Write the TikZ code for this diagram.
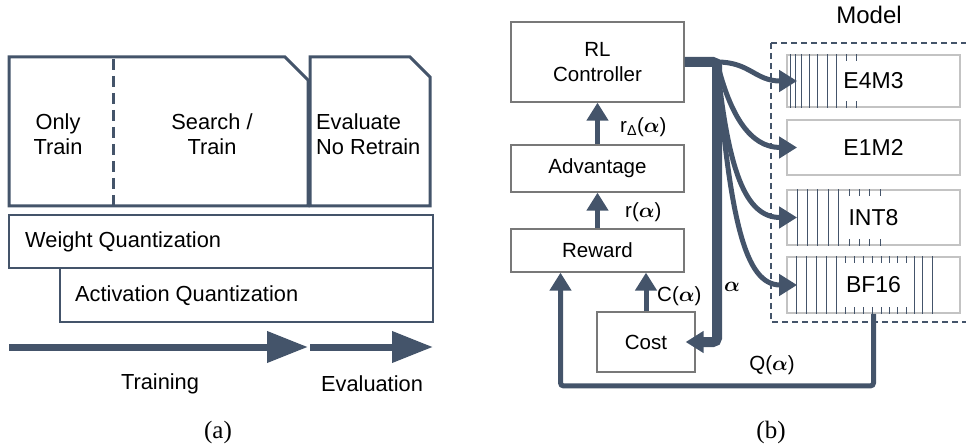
\documentclass[tikz,border=0pt]{standalone}
\usepackage{amsmath}
\usepackage{bm}
\usepackage{fontspec}
\setmainfont{Liberation Sans}
\newfontfamily\capfont{Liberation Serif}
\usepackage{tikz}
\usetikzlibrary{arrows.meta,calc,positioning}
\definecolor{slate}{RGB}{68,84,106}
\definecolor{boxgray}{RGB}{120,120,120}
\definecolor{fmtgray}{RGB}{195,195,195}

\begin{document}
\begin{tikzpicture}[x=1pt,y=-1pt,
  font=\fontsize{20.5}{24.6}\selectfont,
  bigtext/.style={font=\fontsize{21.8}{25}\selectfont},
  captext/.style={font=\capfont\fontsize{25}{28}\selectfont},
  phase/.style={draw=slate,line width=3pt,line join=miter},
  quant/.style={draw=slate,line width=1.3pt},
  bigarrow/.style={draw=slate,line width=7pt,-{Triangle[length=41pt,width=30pt]}},
  block/.style={draw=boxgray,line width=1.3pt,rectangle,inner sep=0pt,align=center,minimum width=173pt},
  fmt/.style={draw=fmtgray,line width=1.8pt,rectangle,inner sep=0pt,minimum width=173pt,
    font=\fontsize{23}{27}\selectfont},
  flow/.style={draw=slate,line width=5pt,-{Triangle[length=18pt,width=21pt]}},
  bits/.style={draw=slate,line width=1.1pt}]
  \useasboundingbox (0,0) rectangle (966,446);
  % Panel (a): phases
  \draw[phase] (9,57) -- (285,57) -- (308,80) -- (308,206) -- (9,206) -- cycle;
  \draw[phase] (310,57) -- (410,57) -- (430,77) -- (430,206) -- (310,206) -- cycle;
  \draw[slate,line width=3pt,dash pattern=on 11pt off 6pt] (113,59) -- (113,206);
  \node[bigtext,align=center,inner sep=0pt] (only) at (58,134.5) {Only\\Train};
  \node[bigtext,align=center,inner sep=0pt] (search) at (212,134.5) {Search /\\Train};
  \node[bigtext,align=left,inner sep=0pt,anchor=west] (evalnr) at (316,134.5) {Evaluate\\No Retrain};
  % Quantization bars
  \draw[quant] (9,215) rectangle (433,268);
  \draw[quant] (60,268) rectangle (433,322);
  \node[bigtext,anchor=west,inner sep=0pt] (wq) at (25,242) {Weight Quantization};
  \node[bigtext,anchor=west,inner sep=0pt] (aq) at (75,296) {Activation Quantization};
  % Timeline
  \coordinate (t0) at (9,347);
  \coordinate (t1) at (308,347);
  \coordinate (e0) at (310,347);
  \coordinate (e1) at (433,347);
  \draw[bigarrow] (t0) -- (t1);
  \draw[bigarrow] (e0) -- (e1);
  \node[bigtext] (train) at (160,384) {Training};
  \node[bigtext] (evaluation) at (372,384) {Evaluation};
  \node[captext] (capa) at (218,432) {(a)};

  % Panel (b): control loop
  \node[block,minimum height=80pt] (rl) at (597.5,62) {RL\\Controller};
  \node[block,minimum height=47pt] (adv) at (597.5,168.5) {Advantage};
  \node[block,minimum height=43pt] (reward) at (597.5,250.5) {Reward};
  \node[block,minimum width=98pt,minimum height=60pt] (cost) at (646,342) {Cost};
  \draw[flow] (adv.north) -- (rl.south);
  \draw[flow] (reward.north) -- (adv.south);
  \draw[flow] (cost.north) -- (cost.north |- reward.south);
  \node[anchor=west,inner sep=0pt] (rdlab) at (620,127) {r\textsubscript{Δ}($\bm{\alpha}$)};
  \node[anchor=west,inner sep=0pt] (rlab) at (625,212) {r($\bm{\alpha}$)};
  \node[anchor=west,inner sep=0pt] (clab) at (657,296) {C($\bm{\alpha}$)};
  % Model
  \draw[slate,line width=1.2pt,dash pattern=on 6pt off 4pt] (771,43) rectangle (985,322);
  \node[font=\fontsize{24}{28}\selectfont] (model) at (869,15) {Model};
  \node[fmt,minimum height=52pt] (e4m3) at (873.5,81) {E4M3};
  \node[fmt,minimum height=55pt] (e1m2) at (873.5,147.5) {E1M2};
  \node[fmt,minimum height=55pt] (int8) at (873.5,217.5) {INT8};
  \node[fmt,minimum height=56pt] (bf16) at (873.5,285) {BF16};
  % bit fields
  \foreach \x in {4,9,15,23,31,41,50}
    \draw[bits] ($(e4m3.north west)+(\x,0)$) -- ($(e4m3.south west)+(\x,0)$);
  \foreach \x in {60,70} {
    \draw[bits] ($(e4m3.north west)+(\x,0)$) -- ++(0,7);
    \draw[bits] ($(e4m3.south west)+(\x,0)$) -- ++(0,-7);
  }
  \foreach \x in {11,21,31,42,52}
    \draw[bits] ($(int8.north west)+(\x,0)$) -- ($(int8.south west)+(\x,0)$);
  \foreach \x in {63,73,83,94} {
    \draw[bits] ($(int8.north west)+(\x,0)$) -- ++(0,7);
    \draw[bits] ($(int8.south west)+(\x,0)$) -- ++(0,-7);
  }
  \foreach \x in {10,20,30,40,50,128,136,146}
    \draw[bits] ($(bf16.north west)+(\x,0)$) -- ($(bf16.south west)+(\x,0)$);
  \foreach \x in {59,68,77,86,95,103,111,120} {
    \draw[bits] ($(bf16.north west)+(\x,0)$) -- ++(0,7);
    \draw[bits] ($(bf16.south west)+(\x,0)$) -- ++(0,-7);
  }
  % alpha trunk and branches
  \coordinate (split) at (717,62);
  \draw[slate,line width=10pt,rounded corners=4pt,-{Triangle[length=18pt,width=21pt]}]
    (rl.east) -- (split) -- (split |- cost.east) -- ([xshift=-10pt]cost.east);
  \draw[flow] (split) .. controls (750,62) and (755,81) .. ([xshift=11pt]e4m3.west);
  \draw[flow] (split) .. controls (730,115) and (750,147.5) .. ([xshift=11pt]e1m2.west);
  \draw[flow] (split) .. controls (728,170) and (745,217.5) .. ([xshift=11pt]int8.west);
  \draw[flow] (split) .. controls (730,220) and (745,285) .. ([xshift=11pt]bf16.west);
  \node (alab) at (732,287) {$\bm{\alpha}$};
  % feedback
  \draw[flow,rounded corners=3pt] (bf16.south) -- ++(0,72) -| ([xshift=-37pt]reward.south);
  \node (qlab) at (772,365) {Q($\bm{\alpha}$)};
  \node[captext] (capb) at (771,432) {(b)};
\end{tikzpicture}
\end{document}
